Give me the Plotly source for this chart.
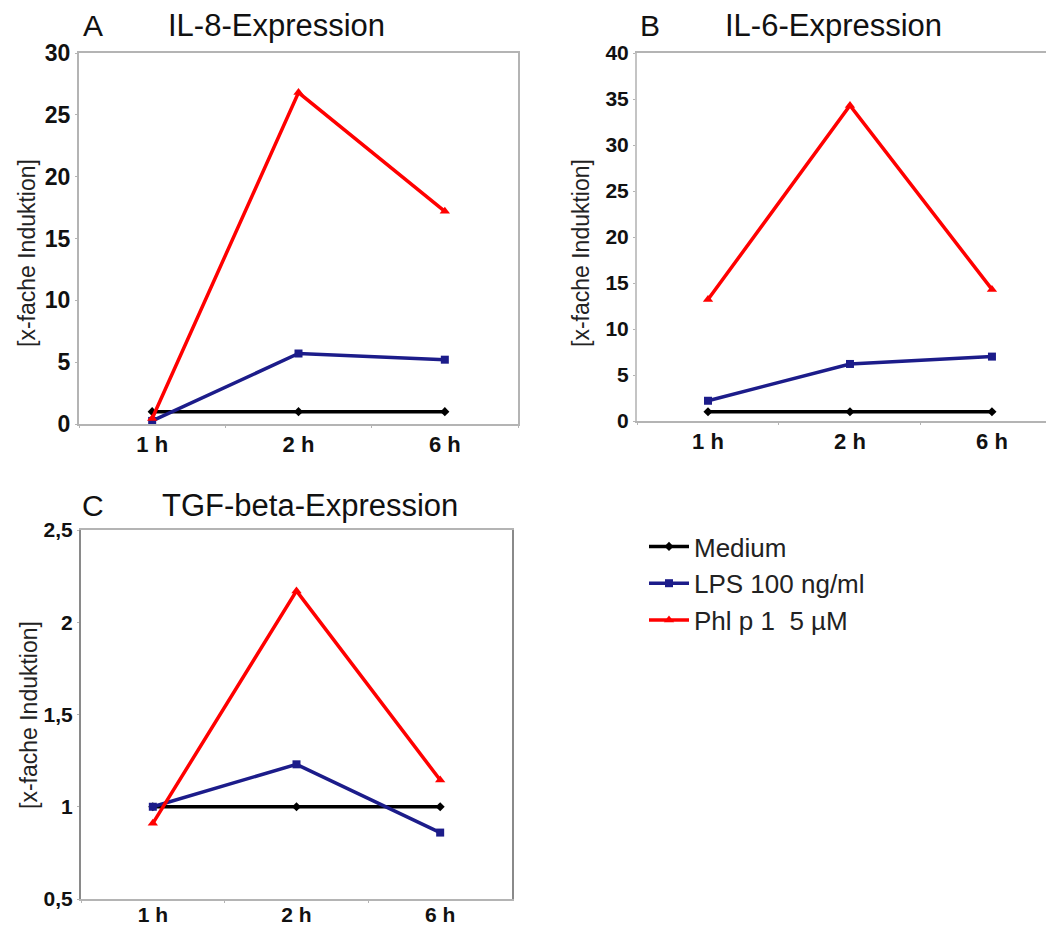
import plotly.graph_objects as go

# page body has an 8px default margin; figure is sized to fit the window
OX, OY = 8, 8
W, H = 1045, 922

time_points = ["1 h", "2 h", "6 h"]
series_names = ["Medium", "LPS 100 ng/ml", "Phl p 1  5 µM"]

il8_medium = [1.0, 1.0, 1.0]
il8_lps = [0.25, 5.7, 5.2]
il8_phl = [0.45, 26.8, 17.2]

il6_medium = [1.0, 1.0, 1.0]
il6_lps = [2.2, 6.2, 7.0]
il6_phl = [13.2, 34.3, 14.3]

tgf_medium = [1.0, 1.0, 1.0]
tgf_lps = [1.0, 1.23, 0.86]
tgf_phl = [0.91, 2.17, 1.145]

panel_letters = ["A", "B", "C"]
panel_titles = ["IL-8-Expression", "IL-6-Expression", "TGF-beta-Expression"]
y_title = "[x-fache Induktion]"

colors = ["#000000", "#1c1c8a", "#ff0000"]
symbols = ["diamond", "square", "triangle-up"]
msizes = [7, 8, 9]

FONT = "Liberation Sans, Arial, sans-serif"

def px_x(x):
    return (x - OX) / W

def px_y(y):
    return 1 - (y - OY) / H

fig = go.Figure()

panels = [
    dict(data=[il8_medium, il8_lps, il8_phl], xa="x", ya="y",
         xd=[px_x(79), px_x(518)], yd=[px_y(424), px_y(53)],
         yr=[0, 30], dt=5, xr=[-0.5, 2.5], mirror_y=True,
         ycol="#b4b4b4", yfs=23, xfs=22, xso=0),
    dict(data=[il6_medium, il6_lps, il6_phl], xa="x2", ya="y2",
         xd=[px_x(637), 1.0], yd=[px_y(421), px_y(53)],
         yr=[0, 40], dt=5, xr=[-0.5, 2.43], mirror_y=False,
         ycol="#c4c4c4", yfs=21, xfs=22, xso=0),
    dict(data=[tgf_medium, tgf_lps, tgf_phl], xa="x3", ya="y3",
         xd=[px_x(81), px_x(512)], yd=[px_y(899), px_y(530)],
         yr=[0.5, 2.5], dt=0.5, xr=[-0.5, 2.5], mirror_y=True,
         ycol="#8a8a8a", yfs=21, xfs=21, xso=-4),
]

for pi, p in enumerate(panels):
    for si, vals in enumerate(p["data"]):
        fig.add_trace(go.Scatter(
            x=time_points, y=vals, name=series_names[si],
            mode="lines+markers",
            line=dict(color=colors[si], width=3.5),
            marker=dict(symbol=symbols[si], size=msizes[si], color=colors[si]),
            xaxis=p["xa"], yaxis=p["ya"],
            showlegend=(pi == 0), legendgroup=series_names[si],
        ))

axis_line = "#b4b4b4"
layout = dict(
    width=W, height=H,
    margin=dict(l=0, r=0, t=0, b=0, autoexpand=False),
    paper_bgcolor="white", plot_bgcolor="white",
    separators=",.",
    font=dict(family=FONT, color="black"),
    showlegend=True,
    legend=dict(x=px_x(644), y=px_y(523), xanchor="left", yanchor="top",
                font=dict(size=26, family=FONT, color="#222222"),
                itemwidth=40, tracegroupgap=0, bgcolor="rgba(0,0,0,0)"),
)

suffix = ["", "2", "3"]
for pi, p in enumerate(panels):
    s = suffix[pi]
    layout["xaxis" + s] = dict(
        domain=p["xd"], anchor="y" + s, type="category",
        range=p["xr"], showgrid=False, zeroline=False, automargin=False,
        showline=True, linecolor=axis_line, linewidth=2,
        mirror=True, ticks="outside", tickson="boundaries",
        ticklen=2, tickcolor=axis_line, tickwidth=1,
        ticklabelstandoff=p["xso"],
        tickfont=dict(size=p["xfs"], family=FONT, color="#111111", weight="bold"),
        fixedrange=True,
    )
    layout["yaxis" + s] = dict(
        domain=p["yd"], anchor="x" + s, range=p["yr"], dtick=p["dt"],
        tick0=p["yr"][0], automargin=False,
        showgrid=False, zeroline=False,
        showline=True, linecolor=p["ycol"], linewidth=2,
        mirror=p["mirror_y"], ticks="outside", ticklen=2,
        tickcolor=axis_line, tickwidth=1,
        tickfont=dict(size=p["yfs"], family=FONT, color="#111111", weight="bold"),
        fixedrange=True,
    )

annotations = []
letter_pos = [(93, 26), (650, 26), (93, 505)]
title_pos = [(276, 26), (833, 26), (310, 505)]
ytitle_pos = [(27, 253), (581, 253), (29, 715)]
for i in range(3):
    annotations.append(dict(
        text=panel_letters[i], x=px_x(letter_pos[i][0]), y=px_y(letter_pos[i][1]),
        xref="paper", yref="paper", showarrow=False,
        font=dict(size=30, family=FONT, color="#111111"),
        xanchor="center", yanchor="middle"))
    annotations.append(dict(
        text=panel_titles[i], x=px_x(title_pos[i][0]), y=px_y(title_pos[i][1]),
        xref="paper", yref="paper", showarrow=False,
        font=dict(size=31, family=FONT, color="#111111"),
        xanchor="center", yanchor="middle"))
    annotations.append(dict(
        text=y_title, x=px_x(ytitle_pos[i][0]), y=px_y(ytitle_pos[i][1]),
        xref="paper", yref="paper", showarrow=False, textangle=-90,
        font=dict(size=23, family=FONT, color="#222222"),
        xanchor="center", yanchor="middle"))
layout["annotations"] = annotations

fig.update_layout(**layout)
fig.write_html("out.html")
